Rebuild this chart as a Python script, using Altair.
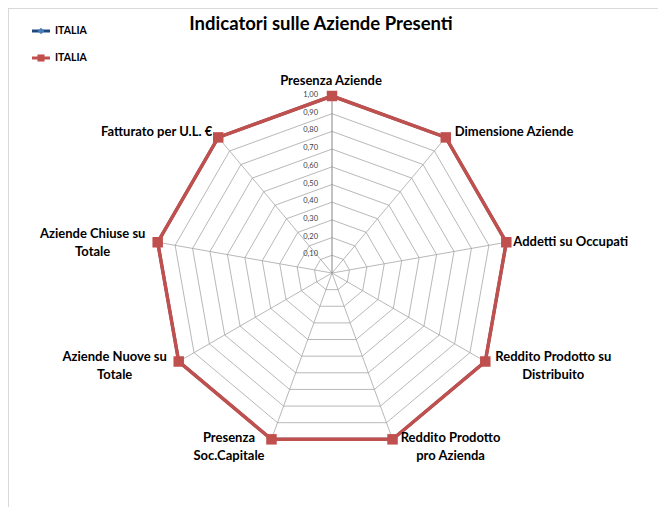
import altair as alt
import pandas as pd

# ---------------- data ----------------
TITLE = "Indicatori sulle Aziende Presenti"
CATEGORIES = [
    "Presenza Aziende",
    "Dimensione Aziende",
    "Addetti su Occupati",
    "Reddito Prodotto su\nDistribuito",
    "Reddito Prodotto\npro Azienda",
    "Presenza\nSoc.Capitale",
    "Aziende Nuove su\nTotale",
    "Aziende Chiuse su\nTotale",
    "Fatturato per U.L. €",
]
SERIES_NAMES = ["ITALIA", "ITALIA"]
SERIES_A = [1.00, 1.00, 1.00, 1.00, 1.00, 1.00, 1.00, 1.00, 1.00]
SERIES_B = [1.00, 1.00, 1.00, 1.00, 1.00, 1.00, 1.00, 1.00, 1.00]
TICKS = [0.10, 0.20, 0.30, 0.40, 0.50, 0.60, 0.70, 0.80, 0.90, 1.00]
TICK_LABELS = ["0,10", "0,20", "0,30", "0,40", "0,50", "0,60", "0,70", "0,80", "0,90", "1,00"]
AXIS_MAX = 1.00

# ---------------- styling / layout ----------------
BLUE_LINE = "#1F497D"
BLUE_MARK = "#4A7EBB"
RED = "#C0504D"
GRID = "#A6A6A6"
AXIS_COL = "#868686"
FONT = "Lato"

N = len(CATEGORIES)
XS = alt.Scale(domain=[-1, 1], range=[147, 501], nice=False, zero=False)
YS = alt.Scale(domain=[-1, 1], range=[442, 88], nice=False, zero=False)


def with_xy(ch, rfield):
    return ch.transform_calculate(
        theta="2*PI*datum.idx/%d" % N
    ).transform_calculate(
        px="datum.%s*sin(datum.theta)" % rfield,
        py="datum.%s*cos(datum.theta)" % rfield,
    )


# series table (closed polygon)
rows = []
for sname, vals, s in [(SERIES_NAMES[0], SERIES_A, 0), (SERIES_NAMES[1], SERIES_B, 1)]:
    for k in range(N + 1):
        i = k % N
        rows.append({"series": s, "name": sname, "idx": i, "ord": k, "value": vals[i]})
series_df = pd.DataFrame(rows)

# grid rings
ring_rows = []
for t in TICKS:
    for k in range(N + 1):
        ring_rows.append({"ring": t, "idx": k % N, "ord": k, "r": t})
ring_df = pd.DataFrame(ring_rows)

# spokes
spoke_rows = []
for i in range(N):
    spoke_rows.append({"idx": i, "r": 0.0})
    spoke_rows.append({"idx": i, "r": AXIS_MAX})
spoke_df = pd.DataFrame(spoke_rows)

cat_df = pd.DataFrame({"idx": list(range(N)), "cat": CATEGORIES, "r": [AXIS_MAX] * N})
tick_df = pd.DataFrame({"idx": [0] * len(TICKS), "r": TICKS, "lab": TICK_LABELS})

X = lambda: alt.X("px:Q", scale=XS, axis=None)
Y = lambda: alt.Y("py:Q", scale=YS, axis=None)

rings = with_xy(alt.Chart(ring_df), "r").mark_line(
    color=GRID, strokeWidth=0.8
).encode(x=X(), y=Y(), detail="ring:N", order="ord:Q")

spokes = with_xy(alt.Chart(spoke_df), "r").transform_filter("datum.idx != 0").mark_line(
    color=GRID, strokeWidth=0.8
).encode(x=X(), y=Y(), detail="idx:N", order="r:Q")

main_axis = with_xy(alt.Chart(spoke_df), "r").transform_filter("datum.idx == 0").mark_line(
    color=AXIS_COL, strokeWidth=1
).encode(x=X(), y=Y(), detail="idx:N", order="r:Q")

tick_text = with_xy(alt.Chart(tick_df), "r").mark_text(
    align="right", baseline="middle", dx=-14, dy=-1, fontSize=7.5, font=FONT, color="#404040"
).encode(x=X(), y=Y(), text="lab:N")

blue_line = with_xy(alt.Chart(series_df), "value").transform_filter("datum.series == 0").mark_line(
    color=BLUE_LINE, strokeWidth=3
).encode(x=X(), y=Y(), order="ord:Q")
blue_pts = with_xy(alt.Chart(series_df), "value").transform_filter(
    "datum.series == 0 && datum.ord < %d" % N
).mark_point(shape="diamond", filled=True, color=BLUE_MARK, size=60, opacity=1).encode(x=X(), y=Y())

red_line = with_xy(alt.Chart(series_df), "value").transform_filter("datum.series == 1").mark_line(
    color=RED, strokeWidth=3.5
).encode(x=X(), y=Y(), order="ord:Q")
red_pts = with_xy(alt.Chart(series_df), "value").transform_filter(
    "datum.series == 1 && datum.ord < %d" % N
).mark_point(shape="square", filled=True, color=RED, size=110, opacity=1).encode(x=X(), y=Y())

# category labels (per-label placement like Excel); dy positions the first line
LABEL_PLACEMENT = [
    ("center", -1, -15),
    ("left", 9, -5),
    ("left", 7, 0),
    ("center", 68, -4.5),
    ("center", 58, -1),
    ("center", -42.5, -1),
    ("center", -64, -4.5),
    ("center", -65, -8),
    ("right", -6, -5),
]
label_layers = []
for i, (al, dx, dy) in enumerate(LABEL_PLACEMENT):
    label_layers.append(
        with_xy(alt.Chart(cat_df), "r").transform_filter("datum.idx == %d" % i).mark_text(
            align=al, baseline="middle", dx=dx, dy=dy, fontSize=13, fontWeight="bold",
            font=FONT, color="#000000", lineBreak="\n", lineHeight=18
        ).encode(x=X(), y=Y(), text="cat:N")
    )

# title
title = alt.Chart(pd.DataFrame({"t": [TITLE]})).mark_text(
    fontSize=18.5, fontWeight="bold", font=FONT, color="#000000", align="center", baseline="middle"
).encode(x=alt.value(313), y=alt.value(16), text="t:N")

# frame
frame_top = alt.Chart(pd.DataFrame({"a": [0]})).mark_rule(color="#D9D9D9", strokeWidth=2).encode(
    x=alt.value(0), x2=alt.value(650), y=alt.value(0))
frame_left = alt.Chart(pd.DataFrame({"a": [0]})).mark_rule(color="#D9D9D9", strokeWidth=2).encode(
    x=alt.value(0), y=alt.value(0), y2=alt.value(499))

# legend (manual: both entries are named ITALIA)
leg_df = pd.DataFrame({"name": SERIES_NAMES, "s": [0, 1]})
legend_layers = []
for s, (lc, mc, shp, sz, ly) in enumerate([
    (BLUE_LINE, BLUE_MARK, "diamond", 45, 23),
    (RED, RED, "square", 50, 50),
]):
    base = alt.Chart(leg_df).transform_filter("datum.s == %d" % s)
    legend_layers.append(base.mark_rule(color=lc, strokeWidth=3).encode(
        x=alt.value(24), x2=alt.value(42), y=alt.value(ly)))
    legend_layers.append(base.mark_point(shape=shp, filled=True, color=mc, size=sz, opacity=1).encode(
        x=alt.value(33), y=alt.value(ly)))
    legend_layers.append(base.mark_text(align="left", baseline="middle", fontSize=10.5, fontWeight="bold",
                                        font=FONT, color="#000000").encode(
        x=alt.value(47), y=alt.value(ly), text="name:N"))

chart = alt.layer(
    frame_top, frame_left,
    rings, spokes, main_axis, tick_text,
    blue_line, blue_pts, red_line, red_pts,
    *label_layers, title, *legend_layers,
).properties(
    width=650, height=499, padding=0, autosize=alt.AutoSizeParams(type="none")
).configure_view(stroke=None).configure(background="white")

chart.save("out.html", embed_options={"renderer": "svg", "actions": False})
